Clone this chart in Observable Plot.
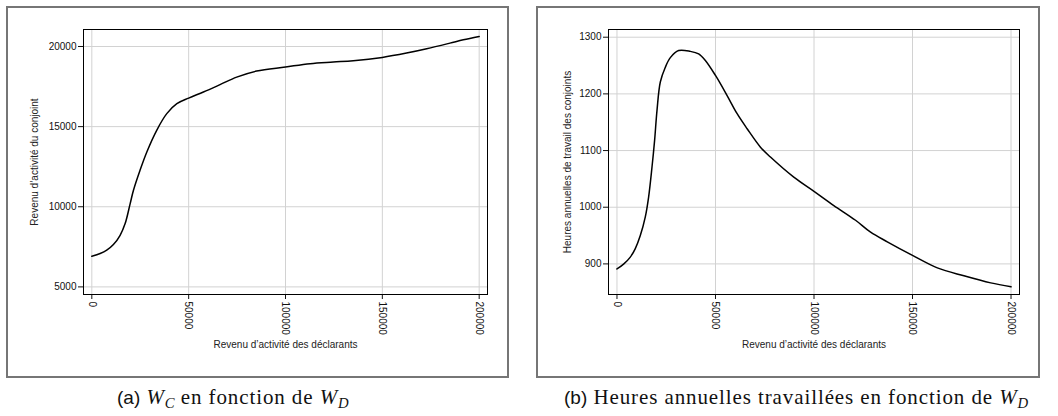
<!DOCTYPE html>
<html>
<head>
<meta charset="utf-8">
<script src="https://cdn.jsdelivr.net/npm/d3@7"></script>
<script src="https://cdn.jsdelivr.net/npm/@observablehq/plot@0.6"></script>
<style>
  body { margin: 0; background: #fff; width: 1058px; height: 416px; position: relative; overflow: hidden; }
  .box { position: absolute; top: 6px; height: 372px; border: 2px solid #767676; box-sizing: border-box; }
  .panel { position: absolute; top: 7px; }
  .panel svg { display: block; }
  .cap { position: absolute; top: 387px; font-family: "Liberation Serif", serif; font-size: 21px; line-height: 21px; white-space: nowrap; color: #111; letter-spacing: 0.9px; }
  .cap .sf { font-family: "Liberation Sans", sans-serif; font-size: 19px; letter-spacing: 0; }
  .cap i { font-style: italic; }
  .cap sub { font-size: 0.7em; vertical-align: -0.28em; line-height: 0; letter-spacing: 0; }
</style>
</head>
<body>
<div class="box" style="left:6px;width:503px"></div>
<div class="box" style="left:536px;width:504px"></div>
<div class="panel" id="pa" style="left:7px"></div>
<div class="panel" id="pb" style="left:537px"></div>
<div class="cap" style="left:117px"><span class="sf">(a)</span> <i>W</i><sub><i>C</i></sub> en fonction de <i>W</i><sub><i>D</i></sub></div>
<div class="cap" style="left:564px"><span class="sf">(b)</span> Heures annuelles travaillées en fonction de <i>W</i><sub><i>D</i></sub></div>
<script>
// Revenu d'activité des déclarants (abscisse commune)
const xTicks = [0, 50000, 100000, 150000, 200000];
const xTitle = "Revenu d’activité des déclarants";

// (a) Revenu d'activité du conjoint
const declarantsA = [0, 4300, 7700, 11150, 14600, 17200, 19800, 21500, 24900, 28400, 33500, 38700, 43900, 50000,
  57600, 66200, 74800, 85100, 100000, 112700, 124700, 135000, 150000, 162500, 172900, 184900, 191800, 200000];
const revenuConjoint = [6910, 7080, 7290, 7640, 8220, 8950, 10200, 11030, 12280, 13420, 14770, 15810, 16430, 16780,
  17160, 17620, 18090, 18470, 18720, 18930, 19030, 19110, 19320, 19590, 19860, 20210, 20420, 20630];
const yTicksA = [5000, 10000, 15000, 20000];
const yTitleA = "Revenu d’activité du conjoint";

// (b) Heures annuelles de travail des conjoints
const declarantsB = [0, 3350, 6760, 9300, 11840, 14380, 16060, 17780, 19100, 20320, 22000, 24540, 27080, 31300,
  37250, 41460, 44860, 50000, 55900, 60980, 66060, 72820, 77900, 89740, 100000, 110060, 121090, 128720, 137200,
  150000, 162600, 176100, 189700, 200000];
const heuresConjoints = [891, 899.5, 912, 927, 950, 983, 1018, 1071, 1118, 1171, 1221, 1247, 1264, 1276.5,
  1275, 1270.5, 1259, 1232.5, 1197, 1165, 1138.5, 1106, 1088.5, 1053, 1028, 1003, 977, 956, 939,
  915, 893, 879, 866.5, 859.5];
const yTicksB = [900, 1000, 1100, 1200, 1300];
const yTitleB = "Heures annuelles de travail des conjoints";

const fmt = d3.format("d");

function panel({xs, ys, yDomain, yTicks, yTitle, marginLeft, marginRight, titleDx}) {
  const rows = xs.map((x, i) => ({x, y: ys[i]}));
  return Plot.plot({
    width: 502,
    height: 370,
    marginLeft,
    marginRight,
    marginTop: 22,
    marginBottom: 83,
    style: {fontFamily: "'Liberation Sans', Arial, sans-serif", fontSize: "10px", color: "#111", background: "transparent"},
    x: {domain: [-4300, 204300]},
    y: {domain: yDomain},
    marks: [
      Plot.gridX(xTicks, {stroke: "#d2d2d2", strokeOpacity: 1}),
      Plot.gridY(yTicks, {stroke: "#d2d2d2", strokeOpacity: 1}),
      Plot.axisX(xTicks, {tickRotate: 90, tickSize: 5, tickPadding: 2, tickFormat: fmt, label: null}),
      Plot.axisY(yTicks, {tickSize: 5, tickPadding: 2, tickFormat: fmt, label: null}),
      Plot.line(rows, {x: "x", y: "y", curve: "catmull-rom", stroke: "#000", strokeWidth: 1.5}),
      Plot.frame({stroke: "#000"}),
      Plot.text([xTitle], {text: d => d, frameAnchor: "bottom", dy: 53, fill: "#222"}),
      Plot.text([yTitle], {text: d => d, frameAnchor: "left", textAnchor: "middle", dx: titleDx, rotate: -90, fill: "#222"})
    ]
  });
}

document.getElementById("pa").append(panel({
  xs: declarantsA, ys: revenuConjoint, yDomain: [4526, 21060], yTicks: yTicksA,
  yTitle: yTitleA, marginLeft: 76, marginRight: 22, titleDx: -49
}));
document.getElementById("pb").append(panel({
  xs: declarantsB, ys: heuresConjoints, yDomain: [846, 1313.6], yTicks: yTicksB,
  yTitle: yTitleB, marginLeft: 71, marginRight: 20, titleDx: -41
}));
</script>
</body>
</html>
